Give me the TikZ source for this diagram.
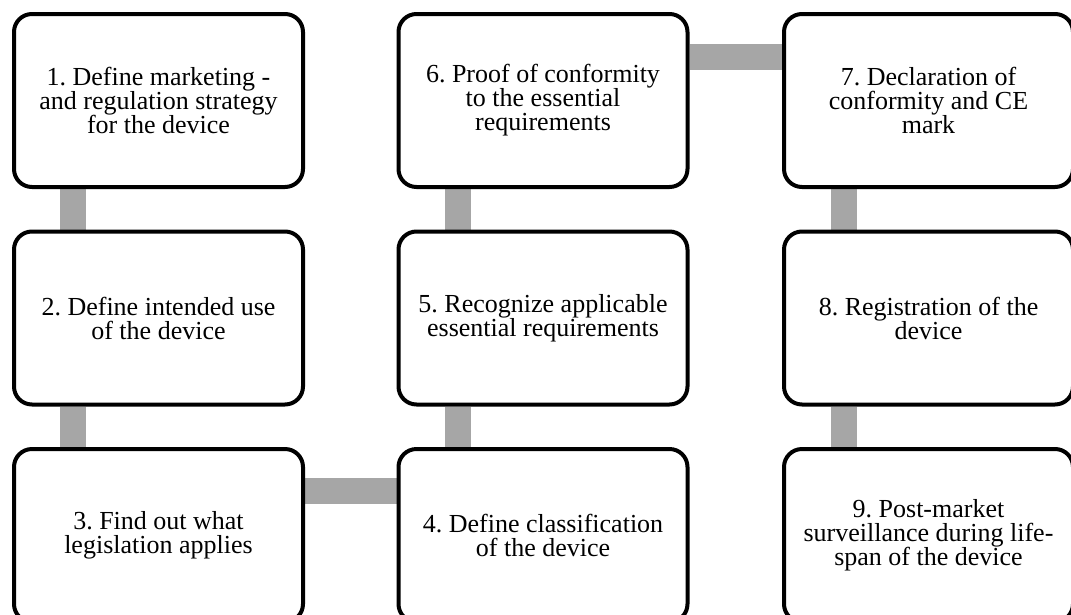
\documentclass[tikz,border=0pt]{standalone}
\usepackage{fontspec}
\setmainfont{Liberation Serif}
\usetikzlibrary{backgrounds}
\frenchspacing
\begin{document}
\begin{tikzpicture}[x=1pt,y=-1pt,
  stepbox/.style={draw=black, line width=4pt, fill=white, rounded corners=18pt,
    minimum width=289pt, minimum height=173pt, inner sep=0pt, align=center,
    font=\fontsize{26}{24}\selectfont},
  conn/.style={draw=gray!70!white, line width=26pt, line cap=butt}]
\useasboundingbox (0,0) rectangle (1071,614);
\node[stepbox] (n1) at (158.5,100.5) {1. Define marketing -\\and regulation strategy\\for the device};
\node[stepbox] (n2) at (158.5,318) {2. Define intended use\\of the device};
\node[stepbox] (n3) at (158.5,535.5) {3. Find out what\\legislation applies};
\node[stepbox] (n4) at (543,535.5) {4. Define classification\\of the device};
\node[stepbox] (n5) at (543,318) {5. Recognize applicable\\essential requirements};
\node[stepbox] (n6) at (543,100.5) {6. Proof of conformity\\to the essential\\requirements};
\node[stepbox] (n7) at (928.5,100.5) {7. Declaration of\\conformity and CE\\mark};
\node[stepbox] (n8) at (928.5,318) {8. Registration of the\\device};
\node[stepbox] (n9) at (928.5,535.5) {9. Post-market\\surveillance during life-\\span of the device};
\begin{scope}[on background layer]
\draw[conn] ([xshift=-85.5pt]n1.south) -- ([xshift=-85.5pt]n2.north);
\draw[conn] ([xshift=-85.5pt]n2.south) -- ([xshift=-85.5pt]n3.north);
\draw[conn] ([yshift=44.5pt]n3.east) -- ([yshift=44.5pt]n4.west);
\draw[conn] ([xshift=-85.5pt]n4.north) -- ([xshift=-85.5pt]n5.south);
\draw[conn] ([xshift=-85.5pt]n5.north) -- ([xshift=-85.5pt]n6.south);
\draw[conn] ([yshift=43.5pt]n6.east) -- ([yshift=43.5pt]n7.west);
\draw[conn] ([xshift=-85pt]n7.south) -- ([xshift=-85pt]n8.north);
\draw[conn] ([xshift=-85pt]n8.south) -- ([xshift=-85pt]n9.north);
\end{scope}
\end{tikzpicture}
\end{document}
